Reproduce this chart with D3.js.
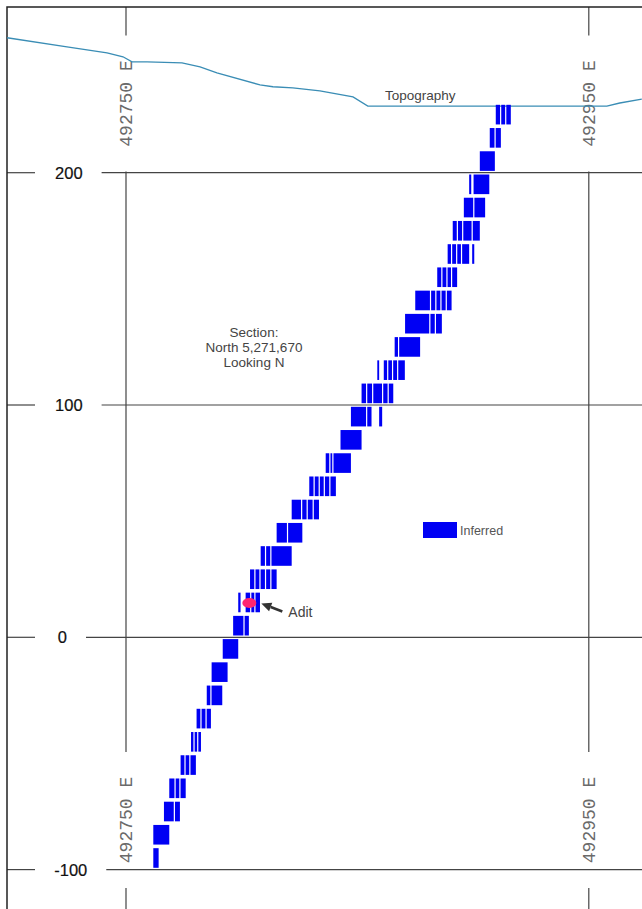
<!DOCTYPE html>
<html>
<head>
<meta charset="utf-8">
<script src="https://cdn.jsdelivr.net/npm/d3@7/dist/d3.min.js"></script>
<style>
  html, body { margin: 0; padding: 0; background: #fff; }
  svg { display: block; }
</style>
</head>
<body>
<script>
// ---- Section data -------------------------------------------------------
// Eastings are stored as metres east of this origin.
const eastOrigin = 492750;

// Grid ticks
const eastTicks = [492750, 492950];
const eastTickLabels = ["492750 E", "492950 E"];
const elevTicks = [-100, 0, 100, 200];
const elevTickLabels = ["-100", "0", "100", "200"];

// Topographic profile (metres east of origin, elevation in m)
const topoEast = [-51.4, -25.5, -8.2, -1.3, 2.6, 9.1, 24.2, 32.0, 39.3, 57.9, 63.5, 72.1, 83.8, 98.1, 104.5, 207.8, 213.4, 222.9];
const topoElev = [258.1, 254.2, 251.6, 249.9, 247.7, 247.7, 247.3, 245.6, 243.0, 237.8, 237.0, 236.5, 235.2, 232.6, 228.7, 228.7, 230.0, 231.7];

// Inferred block model: bench floor elevations (10 m benches)
const benchFloor = [-100, -90, -80, -70, -60, -50, -40, -30, -20, -10, 0, 10, 20, 30, 40, 50, 60, 70, 80, 90, 100, 110, 120, 130, 140, 150, 160, 170, 180, 190, 200, 210, 220];
// Sub-block edges per bench; each run lists consecutive block boundaries
const benchBlocks = [
  [[11.8, 14.1]],
  [[11.8, 18.7]],
  [[16.4, 20.9, 23.3]],
  [[18.7, 21.2, 23.3, 25.8]],
  [[23.6, 25.5, 27.6, 30.2]],
  [[28.1, 29.4, 31.0, 32.4]],
  [[30.5, 32.4, 34.6, 36.7]],
  [[34.9, 36.7, 41.6]],
  [[37.0, 43.9]],
  [[41.8, 48.5]],
  [[46.3, 51.0, 53.1]],
  [[48.5, 49.5], [51.7, 53.9, 55.7, 57.9]],
  [[53.6, 55.7, 57.9, 60.3, 62.6, 65.1]],
  [[58.2, 60.3, 62.6, 71.6]],
  [[65.1, 69.8, 76.2]],
  [[71.6, 75.9, 78.3, 80.9, 83.4]],
  [[79.2, 81.3, 83.5, 85.7, 88.1, 90.7]],
  [[86.3, 88.1, 89.4, 97.2]],
  [[92.7, 101.8]],
  [[97.2, 104.0, 106.1], [109.4, 110.7]],
  [[101.8, 104.0, 106.6, 110.9, 113.3, 115.5]],
  [[108.6, 109.4], [111.4, 113.1, 115.2, 117.4, 120.5]],
  [[116.1, 117.8, 127.1]],
  [[120.6, 131.3, 133.7, 136.5]],
  [[125.0, 131.6, 133.9, 136.1, 138.4, 140.7]],
  [[134.5, 136.5, 138.7, 140.7, 143.1]],
  [[139.0, 140.7, 142.9, 145.0, 148.3], [149.6, 150.5]],
  [[141.2, 143.2, 145.5, 149.6, 152.9]],
  [[146.0, 150.3, 155.2]],
  [[148.3, 149.2], [150.2, 157.0]],
  [[152.9, 159.4]],
  [[157.2, 159.5, 162.0]],
  [[159.8, 161.9, 164.1, 166.3]]
];
const benchHeight = 10;

// Adit location (metres east of origin, elevation)
const aditEast = 53.3;
const aditElev = 14.8;

// ---- Drawing ------------------------------------------------------------
const W = 642, H = 909;
const BLUE = "#0000f4";
const FONT = "'Liberation Sans', Arial, sans-serif";

const svg = d3.select("body").append("svg")
  .attr("width", W).attr("height", H);

svg.append("rect").attr("width", W).attr("height", H).attr("fill", "#fff");

const x = d3.scaleLinear().domain([492750, 492950]).range([126, 588.8]);
const y = d3.scaleLinear().domain([0, 200]).range([637.3, 172.7]);
const xe = e => x(eastOrigin + e);

const frameL = 7, frameT = 7;

// Elevation grid lines with their labels (labels sit in a break of the line)
const elevG = svg.append("g");
elevTicks.forEach((v, i) => {
  const yy = y(v);
  const t = elevG.append("text")
    .attr("y", yy).attr("dy", "0.36em")
    .attr("font-family", FONT).attr("font-size", 16.5)
    .attr("fill", "#111").attr("stroke", "#111").attr("stroke-width", 0.2)
    .text(elevTickLabels[i]);
  const len = t.node().getComputedTextLength();
  // short labels sit a little further left, long ones a little further right
  const lx = 69 - len / 2 + (len - 28) * 0.35;
  t.attr("x", lx);
  elevG.append("line").attr("x1", frameL).attr("x2", 35).attr("y1", yy).attr("y2", yy)
    .attr("stroke", "#444").attr("stroke-width", 1.2);
  elevG.append("line").attr("x1", lx + len + 19).attr("x2", W).attr("y1", yy).attr("y2", yy)
    .attr("stroke", "#444").attr("stroke-width", 1.2);
});

// Easting grid lines, broken where the rotated labels sit
const labelCentres = [103.5, 820];
const gapHalf = 68;
const eastG = svg.append("g");
eastTicks.forEach((v, i) => {
  const xx = x(v);
  const segs = [[frameT, labelCentres[0] - gapHalf],
                [labelCentres[0] + gapHalf, labelCentres[1] - gapHalf],
                [labelCentres[1] + gapHalf, H]];
  segs.forEach(s => {
    eastG.append("line").attr("x1", xx).attr("x2", xx).attr("y1", s[0]).attr("y2", s[1])
      .attr("stroke", "#444").attr("stroke-width", 1.2);
  });
  labelCentres.forEach(cy => {
    eastG.append("text")
      .attr("transform", `translate(${xx},${cy}) rotate(-90)`)
      .attr("text-anchor", "middle").attr("dy", "0.36em")
      .attr("font-family", "'Liberation Mono', 'DejaVu Sans Mono', monospace")
      .attr("font-size", 18).attr("fill", "#6a6a6a")
      .text(eastTickLabels[i]);
  });
});

// Plot frame (left and top edges)
svg.append("path")
  .attr("d", `M${frameL},${H} V${frameT} H${W}`)
  .attr("fill", "none").attr("stroke", "#222").attr("stroke-width", 1.5);

// Topography
const topo = topoEast.map((e, i) => [e, topoElev[i]]);
svg.append("path")
  .datum(topo)
  .attr("d", d3.line().x(d => xe(d[0])).y(d => y(d[1])))
  .attr("fill", "none").attr("stroke", "#3a8db5").attr("stroke-width", 1.3);

svg.append("text")
  .attr("x", 385).attr("y", 100)
  .attr("font-family", FONT).attr("font-size", 13.5).attr("fill", "#444")
  .text("Topography");

// Block model
const cells = [];
benchFloor.forEach((z, r) => {
  benchBlocks[r].forEach(run => {
    for (let k = 0; k < run.length - 1; k++) {
      cells.push({
        z: z,
        e0: run[k], e1: run[k + 1],
        first: k === 0, last: k === run.length - 2
      });
    }
  });
});
const vInset = 1.8, hInset = 0.6;
svg.append("g").selectAll("rect").data(cells).join("rect")
  .attr("x", d => xe(d.e0) + (d.first ? 0 : hInset))
  .attr("width", d => (xe(d.e1) - (d.last ? 0 : hInset)) - (xe(d.e0) + (d.first ? 0 : hInset)))
  .attr("y", d => y(d.z + benchHeight) + vInset)
  .attr("height", d => y(d.z) - y(d.z + benchHeight) - 2 * vInset)
  .attr("fill", BLUE);

// Section caption
const cap = svg.append("text")
  .attr("font-family", FONT).attr("font-size", 13.5).attr("fill", "#444")
  .attr("text-anchor", "middle");
["Section:", "North 5,271,670", "Looking N"].forEach((s, i) => {
  cap.append("tspan").attr("x", 254).attr("y", 337 + i * 15).text(s);
});

// Legend
svg.append("rect").attr("x", 423).attr("y", 522).attr("width", 34).attr("height", 16)
  .attr("fill", BLUE);
svg.append("text").attr("x", 460).attr("y", 534.5)
  .attr("font-family", FONT).attr("font-size", 12.5).attr("fill", "#555")
  .text("Inferred");

// Adit marker, arrow and label
const ax = xe(aditEast), ay = y(aditElev);
svg.append("ellipse").attr("cx", ax).attr("cy", ay).attr("rx", 7).attr("ry", 5)
  .attr("fill", "#ff2570");
const tipX = ax + 12, tipY = ay + 0.5;
const tailX = ax + 33, tailY = ay + 8.5;
const ang = Math.atan2(tailY - tipY, tailX - tipX);
const hl = 10, hw = 4.5;
const bx = tipX + hl * Math.cos(ang), by = tipY + hl * Math.sin(ang);
svg.append("line").attr("x1", bx).attr("y1", by).attr("x2", tailX).attr("y2", tailY)
  .attr("stroke", "#333").attr("stroke-width", 2.6);
svg.append("path")
  .attr("d", `M${tipX},${tipY} L${bx - hw * Math.sin(ang)},${by + hw * Math.cos(ang)} L${bx + hw * Math.sin(ang)},${by - hw * Math.cos(ang)} Z`)
  .attr("fill", "#333");
svg.append("text").attr("x", ax + 39).attr("y", ay + 14)
  .attr("font-family", FONT).attr("font-size", 14).attr("fill", "#444")
  .text("Adit");
</script>
</body>
</html>
